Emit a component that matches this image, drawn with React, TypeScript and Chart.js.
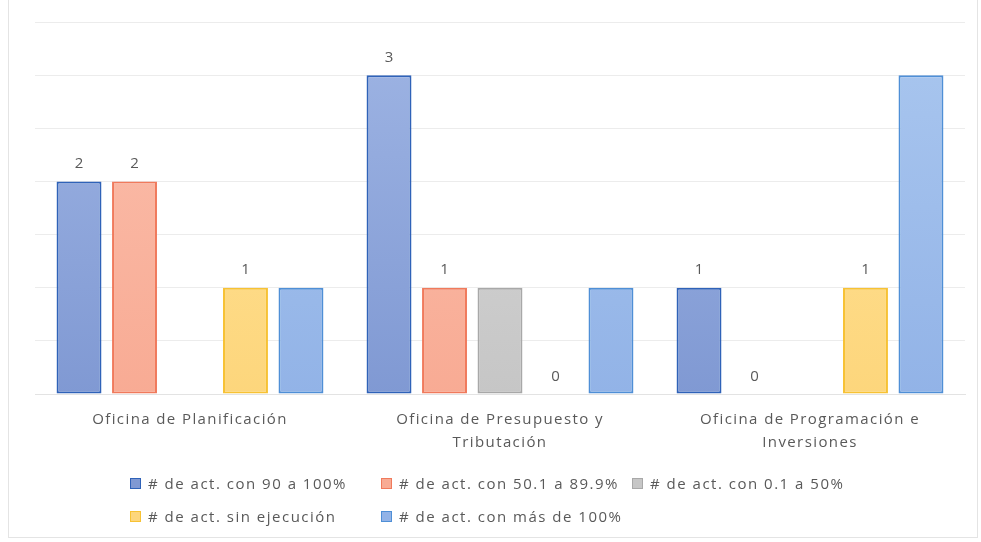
import React, { useEffect, useRef } from "react";
import { Chart, registerables } from "chart.js";

Chart.register(...registerables);

const categories: string[][] = [
  ["Oficina de Planificación"],
  ["Oficina de Presupuesto y", "Tributación"],
  ["Oficina de Programación e", "Inversiones"],
];

const seriesNames = [
  "# de act. con 90 a 100%",
  "# de act. con 50.1 a 89.9%",
  "# de act. con 0.1 a 50%",
  "# de act. sin ejecución",
  "# de act. con más de 100%",
];

const s90a100 = [2, 3, 1];
const s50a89 = [2, 1, 0];
const s01a50 = [0, 1, 0];
const sSinEjecucion = [1, 0, 1];
const sMasDe100 = [1, 1, 3];

const showLabels = [true, true, false, true, false];

const fillTop = ["#9fb5e4", "#fbc0ae", "#dadada", "#ffe49c", "#aac7ef"];
const fillBottom = ["#8099d3", "#f8ab94", "#c6c6c6", "#fdd67c", "#92b3e7"];
const borderColors = ["#2f62b8", "#f07a5c", "#a8a8a8", "#f7c234", "#4f8fd6"];

const FONT = "'Open Sans', 'DejaVu Sans', sans-serif";
const SPACING = "1.4px";

export default function App() {
  const ref = useRef<HTMLCanvasElement | null>(null);

  useEffect(() => {
    if (!ref.current) return;
    const values = [s90a100, s50a89, s01a50, sSinEjecucion, sMasDe100];

    const spacingPlugin = {
      id: "letterSpacing",
      beforeUpdate(chart: any) {
        chart.ctx.letterSpacing = SPACING;
      },
      beforeLayout(chart: any) {
        chart.ctx.letterSpacing = SPACING;
      },
      beforeDraw(chart: any) {
        chart.ctx.letterSpacing = SPACING;
      },
    };

    const labelPlugin = {
      id: "valueLabels",
      afterDatasetsDraw(chart: any) {
        const ctx = chart.ctx;
        ctx.save();
        ctx.letterSpacing = "0px";
        ctx.font = `15px ${FONT}`;
        ctx.fillStyle = "#595959";
        ctx.textAlign = "center";
        ctx.textBaseline = "bottom";
        chart.data.datasets.forEach((ds: any, i: number) => {
          if (!showLabels[i]) return;
          const meta = chart.getDatasetMeta(i);
          meta.data.forEach((bar: any, j: number) => {
            const v = ds.data[j];
            if (v === null || v === undefined) return;
            ctx.fillText(String(v), bar.x, bar.y - 10);
          });
        });
        ctx.restore();
      },
    };

    const chart = new Chart(ref.current, {
      type: "bar",
      data: {
        labels: categories,
        datasets: seriesNames.map((name, i) => ({
          label: name,
          data: values[i],
          backgroundColor: (c: any) => {
            const area = c.chart.chartArea;
            if (!area) return fillTop[i];
            const g = c.chart.ctx.createLinearGradient(0, area.top, 0, area.bottom);
            g.addColorStop(0, fillTop[i]);
            g.addColorStop(1, fillBottom[i]);
            return g;
          },
          borderColor: borderColors[i],
          borderWidth: 2,
          borderSkipped: false,
          categoryPercentage: 0.895,
          barPercentage: 0.81,
        })),
      },
      options: {
        animation: false,
        responsive: false,
        maintainAspectRatio: false,
        layout: { padding: { left: 35, right: 16, top: 22, bottom: 0 } },
        plugins: {
          legend: { display: false },
          tooltip: { enabled: false },
        },
        scales: {
          x: {
            grid: { display: false, drawTicks: false },
            border: { display: true, color: "#e3e3e3", width: 1 },
            ticks: {
              color: "#595959",
              font: { family: FONT, size: 15, lineHeight: 1.53 },
              padding: 14,
              maxRotation: 0,
              autoSkip: false,
            },
            afterFit: (axis: any) => {
              axis.height = 148;
            },
          },
          y: {
            min: 0,
            max: 3.5,
            ticks: { display: false, stepSize: 0.5 },
            grid: { color: "#ececec", drawTicks: false, lineWidth: 1 },
            border: { display: false },
            afterFit: (axis: any) => {
              axis.width = 0;
            },
          },
        },
      },
      plugins: [spacingPlugin, labelPlugin],
    });
    return () => chart.destroy();
  }, []);

  const cols = [130, 381, 632];
  const rows = [483, 516];

  return (
    <div
      style={{
        position: "fixed",
        left: 0,
        top: 0,
        width: 981,
        height: 542,
        background: "#ffffff",
        overflow: "hidden",
      }}
    >
      <div
        style={{
          position: "absolute",
          left: 8,
          top: -2,
          width: 970,
          height: 540,
          border: "1px solid #e4e4e4",
          boxSizing: "border-box",
        }}
      />
      <canvas ref={ref} width={981} height={542} style={{ position: "absolute", left: 0, top: 0 }} />
      {seriesNames.map((name, i) => (
        <div
          key={name}
          style={{
            position: "absolute",
            left: cols[i % 3],
            top: rows[Math.floor(i / 3)] - 11,
            height: 22,
            display: "flex",
            alignItems: "center",
            fontFamily: FONT,
            fontSize: 15,
            letterSpacing: "1.5px",
            color: "#595959",
            whiteSpace: "nowrap",
          }}
        >
          <span
            style={{
              display: "inline-block",
              width: 9,
              height: 9,
              background: fillBottom[i],
              border: `1.5px solid ${borderColors[i]}`,
              marginRight: 7,
            }}
          />
          {name}
        </div>
      ))}
    </div>
  );
}
